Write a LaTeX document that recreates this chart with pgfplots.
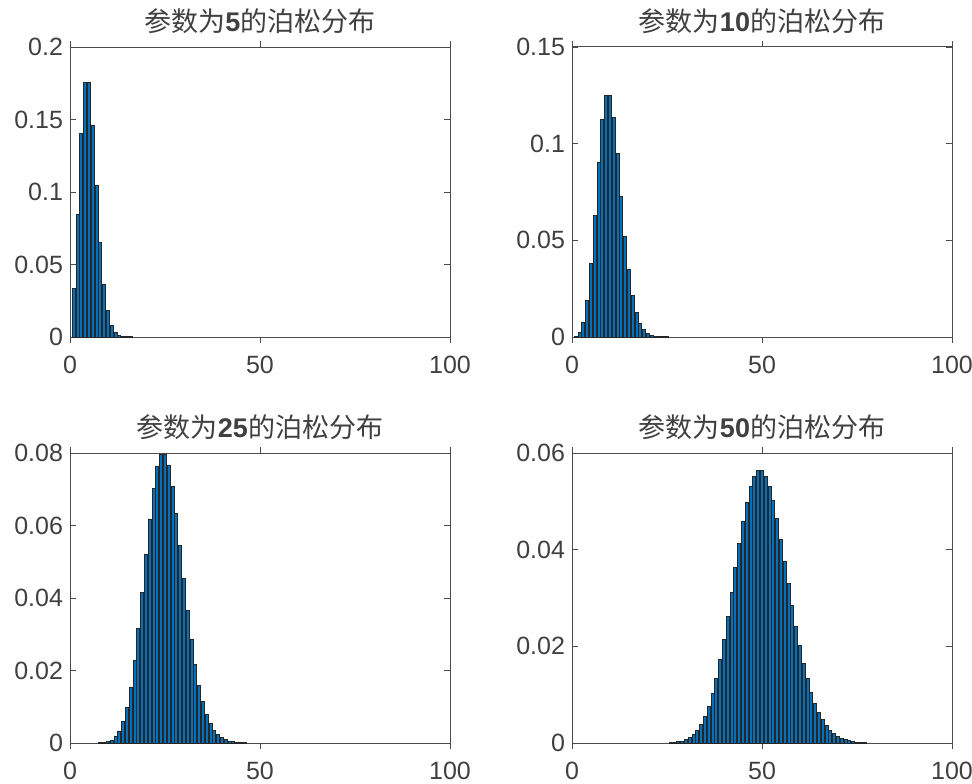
\documentclass[border=0pt]{standalone}
\usepackage{pgfplots}
\pgfplotsset{compat=1.18}
\usepackage{fontspec}
\setmainfont{Liberation Sans}
\newfontfamily\cjk{Noto Sans CJK SC}

\definecolor{barblue}{rgb}{0,0.447,0.741}
\definecolor{axgray}{gray}{0.3}
\definecolor{tkgray}{gray}{0.25}

\pgfplotsset{
    matbar/.style={
        scale only axis,
        width=190pt, height=145pt,
        xmin=0, xmax=100, ymin=0,
        xtick={0,50,100},
        ybar, bar width=0.8, bar shift=0pt,
        axis line style={draw=axgray, line width=0.5pt},
        tick style={draw=axgray, line width=0.4pt},
        major tick length=3pt,
        ticklabel style={font=\fontsize{12.5}{14}\selectfont, text=tkgray},
        xticklabel style={yshift=-3pt},
        /pgf/number format/assume math mode=true,
        yticklabel style={/pgf/number format/fixed, /pgf/number format/precision=2},
        scaled y ticks=false,
        title style={font=\fontsize{13.5}{15}\selectfont, text=black!75, yshift=-3pt},
    },
    bars/.style={fill=barblue, draw=black!85, line width=0.45pt},
}
\newcommand{\ttl}[1]{{\cjk 参数为}\textbf{#1}{\cjk 的泊松分布}}

\begin{document}
\begin{tikzpicture}
\useasboundingbox (0,0) rectangle (486pt,391.5pt);

% lambda = 5
\begin{axis}[matbar, at={(35pt,223pt)}, anchor=south west,
    ymax=0.2, ytick={0,0.05,0.1,0.15,0.2}, title={\ttl{5}}]
\addplot[bars] coordinates {
    (1,0.033690) (2,0.084224) (3,0.140374) (4,0.175467) (5,0.175467)
    (6,0.146223) (7,0.104445) (8,0.065278) (9,0.036266) (10,0.018133)
    (11,0.008242) (12,0.003434) (13,0.001321) (14,0.000472) (15,0.000157)
    (16,0.000049)
};
\end{axis}

% lambda = 10
\begin{axis}[matbar, at={(286pt,223pt)}, anchor=south west,
    ymax=0.15, ytick={0,0.05,0.1,0.15}, title={\ttl{10}}]
\addplot[bars] coordinates {
    (1,0.000454) (2,0.002270) (3,0.007567) (4,0.018917) (5,0.037833)
    (6,0.063055) (7,0.090079) (8,0.112599) (9,0.125110) (10,0.125110)
    (11,0.113736) (12,0.094780) (13,0.072908) (14,0.052077) (15,0.034718)
    (16,0.021699) (17,0.012764) (18,0.007091) (19,0.003732) (20,0.001866)
    (21,0.000889) (22,0.000404) (23,0.000176) (24,0.000073) (25,0.000029)
};
\end{axis}

% lambda = 25
\begin{axis}[matbar, at={(35pt,20pt)}, anchor=south west,
    ymax=0.08, ytick={0,0.02,0.04,0.06,0.08}, title={\ttl{25}}]
\addplot[bars] coordinates {
    (8,0.000053) (9,0.000146) (10,0.000365) (11,0.000829) (12,0.001728)
    (13,0.003323) (14,0.005935) (15,0.009891) (16,0.015455) (17,0.022728)
    (18,0.031566) (19,0.041534) (20,0.051918) (21,0.061807) (22,0.070235)
    (23,0.076342) (24,0.079523) (25,0.079523) (26,0.076464) (27,0.070800)
    (28,0.063214) (29,0.054495) (30,0.045413) (31,0.036623) (32,0.028612)
    (33,0.021676) (34,0.015938) (35,0.011384) (36,0.007906) (37,0.005342)
    (38,0.003514) (39,0.002253) (40,0.001408) (41,0.000859) (42,0.000511)
    (43,0.000297) (44,0.000169) (45,0.000094) (46,0.000051)
};
\end{axis}

% lambda = 50
\begin{axis}[matbar, at={(286pt,20pt)}, anchor=south west,
    ymax=0.06, ytick={0,0.02,0.04,0.06}, title={\ttl{50}}]
\addplot[bars] coordinates {
    (26,0.000071) (27,0.000132) (28,0.000236) (29,0.000406) (30,0.000677)
    (31,0.001092) (32,0.001707) (33,0.002586) (34,0.003803) (35,0.005432)
    (36,0.007545) (37,0.010196) (38,0.013416) (39,0.017200) (40,0.021500)
    (41,0.026219) (42,0.031213) (43,0.036294) (44,0.041243) (45,0.045826)
    (46,0.049811) (47,0.052991) (48,0.055199) (49,0.056325) (50,0.056325)
    (51,0.055221) (52,0.053097) (53,0.050092) (54,0.046381) (55,0.042165)
    (56,0.037647) (57,0.033024) (58,0.028469) (59,0.024126) (60,0.020105)
    (61,0.016480) (62,0.013290) (63,0.010548) (64,0.008241) (65,0.006339)
    (66,0.004802) (67,0.003584) (68,0.002635) (69,0.001909) (70,0.001364)
    (71,0.000961) (72,0.000667) (73,0.000457) (74,0.000309) (75,0.000206)
    (76,0.000135) (77,0.000088)
};
\end{axis}
\end{tikzpicture}
\end{document}
